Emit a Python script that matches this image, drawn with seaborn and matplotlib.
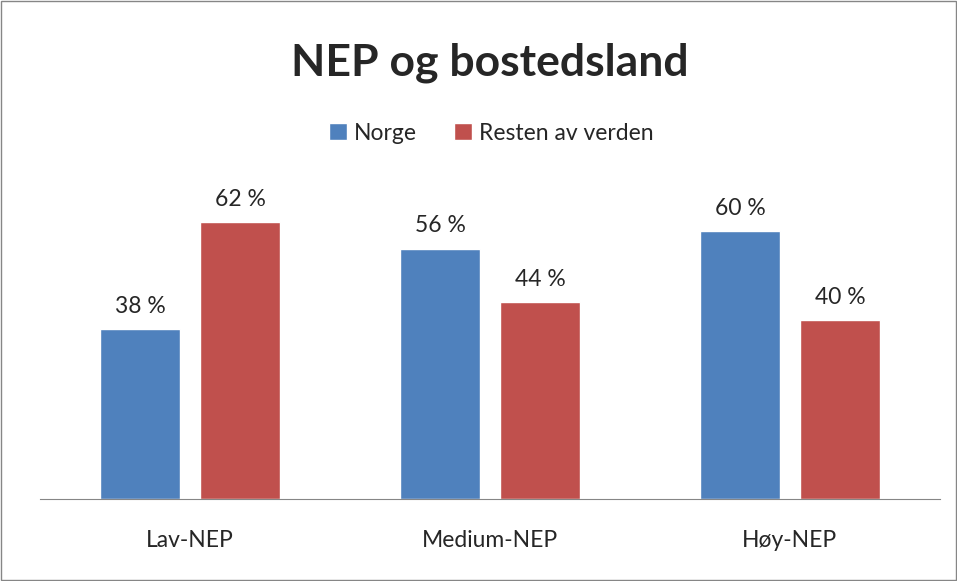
import matplotlib.pyplot as plt
import seaborn as sns
import pandas as pd

categories = ["Lav-NEP", "Medium-NEP", "Høy-NEP"]
norge = [38, 56, 60]
resten = [62, 44, 40]
series = ["Norge", "Resten av verden"]

df = pd.DataFrame({
    "kategori": categories * 2,
    "andel": norge + resten,
    "serie": [series[0]] * 3 + [series[1]] * 3,
})

sns.set_style("white")
plt.rcParams["font.family"] = ["Lato", "DejaVu Sans"]

fig = plt.figure(figsize=(9.57, 5.81), dpi=100)
ax = fig.add_axes([0.0418, 0.1411, 0.9404, 0.5835])

sns.barplot(data=df, x="kategori", y="andel", hue="serie",
            palette=["#4F81BD", "#C0504D"], width=0.667, gap=0.2,
            saturation=1, ax=ax, legend=True)

for c in ax.containers:
    ax.bar_label(c, labels=[f"{v:.0f} %" for v in c.datavalues],
                 padding=9, fontsize=16.5)

ax.set_ylim(0, 75.9)
ax.set_xlim(-0.5, 2.5)
ax.set_xlabel("")
ax.set_ylabel("")
ax.set_yticks([])
ax.tick_params(axis="x", labelsize=16.5, pad=22, length=0)
for s in ["top", "right", "left"]:
    ax.spines[s].set_visible(False)
ax.spines["bottom"].set_color("#868686")

ax.legend(loc="center", bbox_to_anchor=(491 / 957, 1 - 133 / 581), bbox_transform=fig.transFigure,
          ncol=2, frameon=False, fontsize=16.5, handlelength=0.8, handleheight=0.8,
          columnspacing=1.6, handletextpad=0.3)

fig.text(490 / 957, 1 - 63 / 581, "NEP og bostedsland", ha="center", va="center",
         fontsize=32, fontweight="bold")

fig.patches.append(plt.Rectangle((0.001, 0.001), 0.998, 0.998, transform=fig.transFigure,
                                 fill=False, edgecolor="#868686", linewidth=1))

fig.savefig("out.png", dpi=100)
